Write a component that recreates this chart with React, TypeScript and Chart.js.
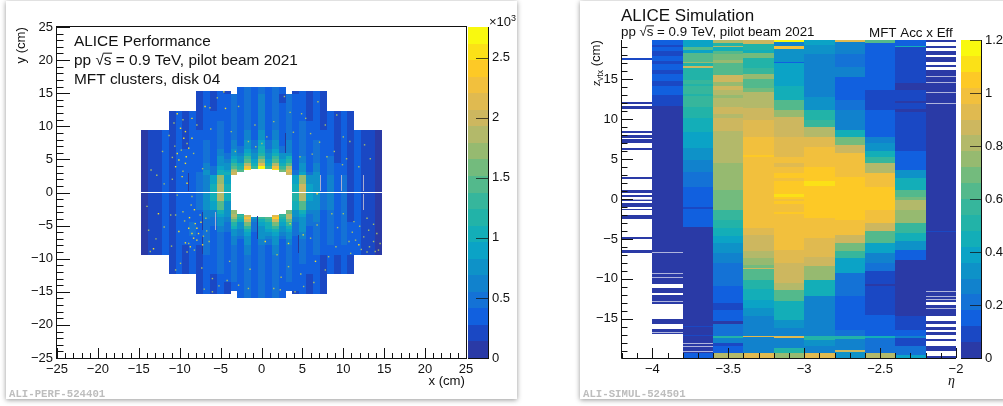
import React, { useEffect, useRef } from "react";
import { Chart, registerables } from "chart.js";

Chart.register(...registerables);

const SANS = '"Liberation Sans", Arial, sans-serif';

// 20 contour levels of the colour scale, bottom to top
const paletteColors = [
  "#2a3aa6", "#1a48c4", "#1160df", "#1472d6", "#1182cd", "#0e92c8", "#0ba3c6", "#13aeb8", "#22b3a8", "#36b69c",
  "#53b98c", "#73bb7d", "#96ba70", "#b3b96a", "#cdb75f", "#e0ba50", "#f2c03d", "#fdc926", "#fbe117", "#f9f90f",
];

// ---------- Left panel: MFT clusters, disk 04 (values in hundreds of clusters) ----------
const clusterMax = 27.56;
const columnEdges = [
  -14.7, -13.86, -13.02, -12.18, -11.34, -10.5, -9.66, -8.82, -7.98, -7.14, -6.3, -5.46, -4.62, -3.78, -2.94, -2.1, -1.26, -0.42,
  0.42, 1.26, 2.1, 2.94, 3.78, 4.62, 5.46, 6.3, 7.14, 7.98, 8.82, 9.66, 10.5, 11.34, 12.18, 13.02, 13.86, 14.7,
];
const upperEdges = [15.9, 15.35, 14.9, 13.5, 12.35, 10.8, 9.37, 8, 7, 6.5, 6, 5.5, 5, 4.5, 4, 3.6, 3.4, 3.1, 2.6, 1.3, 0.15];
const lowerEdges = [-0.03, -1.3, -2.7, -3.2, -3.4, -3.66, -4, -4.5, -5, -5.5, -6, -6.5, -7, -8, -9.37, -10.8, -12.35, -13.5, -14.9, -15.35, -15.9];

const upperRows = [
  [0,0,0,0,0,0,0,0,0,0,0,0,0,0, 3,5,3,5,3,5,3, 0,0,0,0,0,0,0,0,0,0,0,0,0,0],
  [0,0,0,0,0,0,0,0, 2,3,2,3,2,0,3,5,3,5,3,5,3,0,2,3,2,3,2, 0,0,0,0,0,0,0,0],
  [0,0,0,0,0,0,0,0, 2,3,2,3,3,5,3,5,3,6,3,5,2,5,3,3,2,3,2, 0,0,0,0,0,0,0,0],
  [0,0,0,0,0,0,0,0, 2,3,2,3,3,5,3,5,3,6,3,5,3,5,3,3,2,3,2, 0,0,0,0,0,0,0,0],
  [0,0,0,0, 2,3,2,3,2,3,3,3,3,5,3,5,3,6,3,5,3,5,3,3,2,3,2,3,2,3,2, 0,0,0,0],
  [0,0,0,0, 2,3,2,3,2,3,3,5,3,5,3,5,4,6,4,5,3,5,3,5,3,3,2,3,2,3,2, 0,0,0,0],
  [1,2,2,3,2,3,2,3,3,3,3,5,3,5,4,6,4,7,4,6,4,5,3,5,3,3,3,3,2,3,2,3,2,2,1],
  [1,2,2,3,2,3,2,3,3,5,3,5,4,6,4,7,5,9,5,7,4,6,3,5,3,5,3,3,2,3,2,3,2,2,1],
  [1,2,2,3,2,3,2,3,3,5,3,5,4,6,5,8,5,10,5,8, 5,6,3,5,3,5,3,3,2,3,2,3,2,2,1],
  [1,2,2,3,2,3,3,3,3,5,3,6,4,7,5,9,6,11,6,9, 5,6,3,5,3,5,3,3,2,3,2,3,2,2,1],
  [1,2,2,3,2,3,3,3,3,5,4,6,5,8,6,11,7,12,7,11, 7,8,3,5,3,5,3,3,2,3,2,3,2,2,1],
  [1,2,2,3,2,3,3,3,3,5,4,7,5,9,7,13,8,15,8,13, 8,10,3,6,3,5,3,5,2,3,2,3,2,2,1],
  [1,2,2,3,2,3,3,3,3,5,4,7,6,11,8,15,9,17,9,15, 9,12,4,6,4,5,3,5,2,3,2,3,2,2,1],
  [1,2,2,3,2,3,3,3,3,6,4,8,7,13,10,19,11,21,11,19, 11,15,4,7,4,6,3,5,3,3,2,3,2,2,1],
  [1,2,2,3,2,3,3,3,4,6,5,9,8,15,12,23,13,27,13,23, 13,18,4,7,4,6,3,5,3,3,2,3,2,2,1],
  [1,2,2,3,2,3,3,3,4,6,5,9,8,17,13,25,0,0,0,25, 14,20,4,7,4,6,3,5,3,3,2,3,2,2,1],
  [1,2,2,3,2,3,3,3,4,7,5,10,9,19,15,0,0,0,0,0, 16,22,5,8,4,6,3,5,3,3,2,3,2,2,1],
  [1,2,2,3,2,3,3,3,5,7,5,11,10,20,0,0,0,0,0,0, 0,20,5,9,5,7,4,5,3,3,2,3,2,2,1],
  [1,2,2,3,2,3,3,3,5,6,9,17,9,0,0,0,0,0,0,0, 0,0,9,17,8,8,4,6,3,5,2,3,2,2,1],
  [1,2,2,3,2,3,3,3,5,6,10,19,10,0,0,0,0,0,0,0, 0,0,11,20,9,8,4,6,3,5,2,3,2,2,1],
];

const lowerRows = [
  [1,2,2,3,2,3,3,3,5,7,10,19,10,0,0,0,0,0,0,0, 0,0,12,19,9,8,5,6,3,5,2,3,2,2,1],
  [1,2,2,3,2,3,3,3,5,7,9,15,8,0,0,0,0,0,0,0, 0,0,10,15,8,7,5,6,3,5,2,3,2,2,1],
  [1,2,2,3,2,3,3,3,4,6,6,10,7,17,0,0,0,0,0,0, 0,16,8,10,6,6,4,5,3,5,2,3,2,2,1],
  [1,2,2,3,2,3,3,3,4,6,6,9,7,18,12,0,0,0,0,0, 13,19,7,9,5,6,4,5,3,5,2,3,2,2,1],
  [1,2,2,3,2,3,3,3,4,6,6,9,7,18,13,20,0,0,0,21, 13,19,7,9,5,6,4,5,3,5,2,3,2,2,1],
  [1,2,2,3,2,3,3,3,4,6,5,8,6,17,12,23,7,13,15,24, 12,18,6,8,5,6,4,5,3,5,2,3,2,2,1],
  [1,2,2,3,2,3,3,3,4,5,5,8,6,15,10,20,6,11,13,20,10,16,6,8,5,6,4,5,3,5,2,3,2,2,1],
  [1,2,2,3,2,3,3,5,4,5,5,7,5,12,8,16,5,9,11,16,9,13,5,8,5,5,4,5,3,5,3,3,2,2,1],
  [1,2,2,3,2,3,3,5,4,5,4,6,5,10,7,13,5,8,10,13,8,11,5,7,4,5,4,5,3,5,3,3,2,2,1],
  [1,2,2,3,2,3,4,5,4,5,4,6,5,8,6,10,5,7,9,11,7,9,5,7,4,5,3,5,3,5,3,3,2,2,1],
  [1,2,2,3,2,3,3,5,3,5,3,5,4,7,6,9,4,7,8,9,6,8,5,6,4,5,3,5,3,5,3,3,2,2,1],
  [1,2,2,3,2,3,3,3,3,5,3,5,4,6,5,8,4,7,6,8,5,7,4,6,4,5,3,5,3,5,3,3,2,2,1],
  [1,2,2,3,2,3,3,3,3,5,3,5,3,6,4,7,4,6,5,7,4,6,4,5,3,5,3,5,3,5,3,3,2,2,1],
  [1,2,2,3,2,3,2,3,2,5,3,5,3,5,4,6,4,5,4,6,4,5,3,5,3,5,3,3,3,3,3,3,2,2,1],
  [0,0,0,0, 2,3,2,3,2,3,3,5,3,5,3,5,4,5,4,5,4,5,3,5,3,3,2,3,2,3,2, 0,0,0,0],
  [0,0,0,0, 2,3,2,3,2,3,3,5,3,5,3,5,3,5,3,5,3,5,3,3,3,3,2,3,2,3,2, 0,0,0,0],
  [0,0,0,0,0,0,0,0, 2,3,2,3,3,5,3,5,3,5,3,5,3,5,3,3,2,3,2, 0,0,0,0,0,0,0,0],
  [0,0,0,0,0,0,0,0, 2,3,2,3,2,3,3,5,3,5,3,5,3,3,3,3,2,3,2, 0,0,0,0,0,0,0,0],
  [0,0,0,0,0,0,0,0, 2,3,2,3,2,0,3,5,3,5,3,5,3,0,2,3,2,3,2, 0,0,0,0,0,0,0,0],
  [0,0,0,0,0,0,0,0,0,0,0,0,0,0, 3,5,3,5,3,5,3, 0,0,0,0,0,0,0,0,0,0,0,0,0,0],
];

// [x, yTop, yBottom] of the thin dead / noisy chip edges
const darkStrips = [[2.9, 9, 6], [-8.95, 3, 0.2], [-7.3, -2.9, -5.6], [-7.3, -6.5, -9.3], [-0.55, -3.6, -7], [4.5, -6.4, -9.2]];
const paleStrips = [[7.2, 2.7, 0.2], [9.7, 2.7, 0.2], [12.4, 2.7, 0.2], [12.4, -0.2, -2.7], [-5.65, -2.9, -5.6]];

// hot pixels
const hotBright = [
  [-10.3, 11.9], [-9.9, 9.7], [-9.3, 9.2], [-8.5, 11.2], [-9.5, 8.2], [-10.3, 5.9], [-10.1, 4.9], [-9.3, 4.4], [-10.5, 3.9], [-8.5, 8.2],
  [-6.9, 13], [-4.4, 12.7], [-4.6, 15.2], [-8.1, -4.7], [-7.9, -5.4], [-8.5, -6.2], [-8.9, -5.4], [-7.7, -6.2], [-8.3, -6.9], [-7.9, -7.2],
  [-10.1, -5.9], [-12.6, -3.2], [3.5, -4.7], [0.46, -7.4], [3.3, -7.7], [6.8, -0.2], [5.1, -6.4], [-8.7, -8.2], [6.6, -10.4], [-9.2, 5.4],
  [-8.9, 6.7], [-9.7, 2.4], [-8.8, -3.8], [-9.3, -7.6], [11.9, -7.9], [-13.2, -8.5], [-9.1, 1.4], [-8.2, -2.6], [-7.4, -4.5], [-7.2, -7.9],
];
const hotDim = [
  [-7.9, 10.2], [-6.3, 12.8], [-2.8, 13], [-1.6, 7.7], [-0.7, 6.9], [-0.8, 10.2], [-3.2, 6.2], [1.5, 10.7], [4.9, 11.9], [5.4, 11.2],
  [7.8, 10.2], [6, 8.9], [9.2, 11.7], [10, 8.4], [4.7, 5.4], [6.2, 5.8], [8, 5.4], [8.9, 6.2], [12.6, 7.2], [10.8, 7.7], [10.4, 5.1],
  [0.65, 8.4], [0.05, 7.4], [3.5, 12.1], [-14, -2.1], [-13.6, -8.9], [-11.1, -3.4], [-10.5, -3.4], [-13.8, -5.7], [-9.9, -10.7], [-10.5, -11.7],
  [-7.3, -11.4], [-6, -13], [-6, -15], [-2.8, -14], [-10.3, -0.4], [-8.5, -0.6], [-1.6, -14.5], [6, -6.9], [6.8, -4.9], [8.6, -3.2],
  [11.5, -7.2], [12.5, -6.7], [13.1, -5.7], [13.7, -7.4], [14.5, -7.7], [13.9, -8.9], [11.3, -4.4], [10, -3.2], [10.9, -9.2], [3.3, -11.2],
  [7.8, -11.7], [1.5, -14.5], [4.1, -15], [5.15, -14.2], [2.3, -14.7], [-11.3, 8.6], [-10.9, 2], [-11.9, 1.3], [-7.2, 3.6], [-12.8, 2.6],
  [12.2, -8.6], [13.2, -8.2], [14.1, -6.2], [12.9, -9], [10.7, -7.4], [-6.8, -3.9], [-8.2, -8.7], [-9.4, -4.3], [-11.9, -5.2], [-5.2, -14.1],
  [-9.6, 11], [-10.7, 10.5], [-9.1, 7.4], [-10.6, 7], [-9.8, 6.4], [-10.9, 5.3], [-8.3, 5.9], [-9.6, 3.2], [-6.2, 9.6], [-5.4, 14.3],
  [-3.7, 9.2], [2.8, 14.5], [3.9, 9.1], [6.9, 13.7], [7.1, 7.6], [9.9, 4.2], [11.9, 3.9], [13.3, 5.1], [-12.1, 6.2], [-13.5, 3.4],
  [-8.6, -1.9], [-9.6, -2.9], [-7.5, -3.4], [-6.7, -5.8], [-7.1, -6.6], [-8.9, -7.7], [-6.4, -7.4], [-9.1, -9], [-12.9, -7], [-11, -8.1],
  [-3.9, -10.4], [-1.4, -11.6], [1.9, -9.4], [2.4, -12.8], [4.8, -12.3], [6.4, -13.6], [9.3, -5.3], [9.1, -8.2], [12, -5.1], [12.9, -3.9],
  [13.7, -4.8], [14.3, -8.7], [11.1, -6], [8.2, -9.7], [-4.2, -13.3], [-7, -14.6],
];

// ---------- Right panel: MFT acceptance x efficiency; bands are [top edge in z, value] ----------
const etaEdges = [-4.2, -4, -3.8, -3.6, -3.4, -3.2, -3, -2.8, -2.6, -2.4, -2.2, -2];
const zBottom = -19.9;
const etaM42 = [[19.9,null],[17.7,.09],[17.4,null],[12.15,.03],[11.9,null],[11.7,.03],[11.25,null],[8.45,.03],[8.2,null],[7.95,.03],[7.65,null],[7.55,.03],[7.05,null],[6.4,.03],[6.1,null],[2.7,.03],[2.45,null],[1.1,.03],[0.7,null],[0.45,.03],[0.25,null],[0.05,.03],[-0.3,null],[-0.55,.03],[-0.95,null],[-1.2,.03],[-1.4,null],[-2.05,.03],[-2.5,null],[-4.8,.03],[-5,null],[-6.4,.03],[-6.8,null]];
const etaM40 = [[19.9,.15],[19.3,.09],[19,.15],[18.5,.09],[17.9,.15],[17.3,.09],[16.9,.15],[16.2,.09],[15.7,.15],[14.8,.09],[14.2,.15],[13,.09],[11.6,.03],[-10.7,null],[-11.15,.03],[-11.8,null],[-12,.03],[-13.2,null],[-15,.03],[-15.7,null],[-16.3,.03],[-16.9,null]];
const etaM38 = [[19.9,.39],[19,.63],[18.65,.39],[18.3,.63],[17.2,.75],[17,.51],[16.6,.87],[16.4,.51],[14.9,.57],[14.4,.51],[14.1,.57],[13.2,.51],[12.9,.57],[11.55,.51],[10.1,.45],[8.4,.39],[6.35,.33],[4.9,.27],[3.4,.21],[1.55,.15],[-1,.09],[-1.2,.15],[-3.55,.03],[-15.85,.09],[-16,.03],[-17,.09],[-17.2,.03],[-19.3,.15]];
const etaM36 = [[19.9,.81],[19.5,.51],[19.2,.81],[19,.45],[18.55,.63],[18.2,.69],[17.4,.75],[17,.63],[15.5,.87],[14.7,.75],[14.1,.87],[13.7,.81],[13,.75],[12.7,.81],[11.55,.87],[10.7,.81],[10.2,.87],[9.05,.87],[8.5,.81],[7,.81],[4.5,.75],[1.15,.69],[-1.35,.57],[-2.6,.51],[-3.65,.45],[-4.6,.39],[-5.5,.33],[-6.8,.27],[-8,.21],[-10.9,.15],[-13,.09],[-13.85,.15],[-15.3,.03],[-15.7,.21],[-17.2,.51],[-17.4,.24],[-18,.09],[-18.4,.15],[-19.25,.81]];
const etaM34 = [[19.9,.87],[19.4,.48],[18.65,.45],[18.3,.66],[17.6,.51],[16.35,.57],[15.7,.75],[15,.63],[13.85,.69],[13.45,.81],[11.35,.87],[9.9,.93],[7.8,.99],[5.5,1.05],[5.3,.99],[-3.65,.93],[-4.5,.87],[-6.55,.78],[-7.4,.75],[-8.2,.66],[-8.6,.87],[-8.75,.63],[-10.1,.51],[-11.3,.45],[-12.6,.39],[-13.6,.33],[-14.7,.27],[-17.1,.93],[-17.3,.27],[-18.85,.24],[-19.25,.93]];
const etaM32 = [[19.9,1.17],[19.6,.27],[19.2,.99],[18.75,.3],[17.2,.15],[17,.36],[15.7,.39],[14.1,.45],[12.4,.6],[11.15,.75],[10.3,.87],[7.8,.93],[5.3,.99],[4.5,.93],[4.05,.99],[3.2,1.05],[2.6,.99],[2.2,1.05],[0.6,1.11],[0.2,1.05],[0,.99],[-0.3,1.05],[-0.6,.99],[-1.6,1.05],[-1.9,.99],[-6.35,.93],[-8,.87],[-10.5,.78],[-11.35,.63],[-12.8,.42],[-15.1,.33],[-16.15,.27],[-17.1,.93],[-17.35,.27],[-18.65,.51],[-19.25,.75]];
const etaM30 = [[19.9,.39],[19.3,.33],[18.2,.27],[14.9,.24],[12.8,.33],[11.15,.48],[9.9,.57],[9.05,.78],[7.8,.93],[6.55,.99],[4.05,1.05],[2.2,1.11],[1.6,1.05],[-2.4,.99],[-4.9,.93],[-7.2,.87],[-8.4,.72],[-10.1,.45],[-12.2,.27],[-15.1,.24],[-17.2,.51],[-17.6,.33],[-18.4,.27],[-19.25,.93]];
const etaM28 = [[19.9,.93],[19.65,.27],[18.2,.21],[16.55,.27],[15.3,.15],[12.4,.21],[11.15,.27],[8.65,.45],[7.8,.69],[6.8,.87],[5.7,.96],[2.8,1.05],[-2.6,.99],[-4.5,.87],[-5.5,.69],[-6.5,.57],[-7.4,.36],[-9.25,.21],[-12.2,.12],[-14.7,.15],[-16.35,.21],[-17.2,.51],[-17.5,.27],[-18.85,.87],[-19.2,.33]];
const etaM26 = [[19.9,.63],[19.5,.15],[13.65,.09],[11.15,.15],[7.8,.27],[7,.33],[5.95,.45],[5.3,.54],[4.5,.81],[3.2,.99],[1.55,1.05],[-1.35,.99],[-3,.87],[-4.05,.63],[-5.5,.39],[-6.75,.27],[-8,.21],[-9.05,.09],[-10.7,.03],[-10.95,.09],[-14.5,.15],[-17.2,.45],[-17.4,.18],[-19.25,.81]];
const etaM24 = [[19.9,.12],[19.15,.45],[19.05,.09],[14.5,.03],[13.65,.09],[12.3,.03],[12,.09],[11.3,.03],[10.95,.09],[5.95,.15],[3.65,.33],[2.6,.45],[1.15,.63],[0.3,.69],[-0.1,.78],[-1.35,.75],[-3,.57],[-4.3,.45],[-5.3,.33],[-6.35,.15],[-7.6,.03],[-14.7,.09],[-16.35,.15],[-17.2,.27],[-17.4,.09],[-18.4,.21],[-19.5,.39]];
const etaM22 = [[19.9,.03],[19.6,null],[19.2,.03],[18.85,null],[18.57,.03],[18,null],[17.8,.03],[17.1,null],[16.73,.03],[16.5,null],[16.15,.03],[-4.05,.09],[-4.15,.03],[-12.93,null],[-13.27,.03],[-14.7,null],[-15.3,.03],[-15.7,null],[-16,.03],[-16.35,null],[-16.65,.03],[-17,null],[-17.5,.03],[-17.8,null],[-18.43,.03],[-19.05,null],[-19.7,.03]];
const etaColumns = [etaM42, etaM40, etaM38, etaM36, etaM34, etaM32, etaM30, etaM28, etaM26, etaM24, etaM22];

// thin, partly filled bins: [column index, z]
const faintRows = [
  [0, 0.75], [0, -0.05], [1, -6.65], [1, -9.2], [1, -9.8], [1, -12.8], [1, -16.6], [2, -18], [2, -18.4], [2, -19.05],
  [10, 15.4], [10, 14.7], [10, 13.45], [10, 12.07], [10, -11.56], [10, -12.1], [10, -12.5], [10, -13.64],
];

// ---------- Axes ----------
const leftMajor = [-25, -20, -15, -10, -5, 0, 5, 10, 15, 20, 25];
const rightEtaMajor = [-4, -3.5, -3, -2.5, -2];
const rightZMajor = [-15, -10, -5, 0, 5, 10, 15];
const leftBarTicks = [0, 0.5, 1, 1.5, 2, 2.5];
const rightBarTicks = [0, 0.2, 0.4, 0.6, 0.8, 1, 1.2];

const range = (a: number, b: number, s: number) => {
  const out: number[] = [];
  const n = Math.round((b - a) / s);
  for (let i = 0; i <= n; i++) out.push(+(a + i * s).toFixed(4));
  return out;
};

const levelColor = (v: number, max: number) => paletteColors[Math.max(0, Math.min(19, Math.floor((v / max) * 20)))];

type Run = { t: string; font: string; dy?: number; color?: string };
type Label = { x: number; y: number; rot?: number; align?: "left" | "right"; runs: Run[]; overline?: [string, string] };
type TickSet = { major: number[]; minor: number[]; majorLen: number; minorLen: number };
type Panel = {
  rect: [number, number, number, number];
  xMin: number; xMax: number; yMin: number; yMax: number;
  xTicks?: number[]; yTicks: number[];
  xMarks?: TickSet; yMarks: TickSet;
  yPos: "left" | "right";
  frame: "box" | "axes" | "bar";
  tickColor: string;
  datasets: any[];
  labels: Label[];
};

const fmt = (v: any) => String(v).replace("-", "\u2212");

function makeChart(canvas: HTMLCanvasElement, p: Panel) {
  const [x0, y0, x1, y1] = p.rect;
  const axisW = p.yPos === "left" ? 50 : Math.min(34, 1003 - x1);
  const axisH = p.xTicks ? 30 : 0;
  const plugin = {
    id: "rootStyle",
    beforeDatasetsDraw(chart: any) {
      const { ctx, scales } = chart;
      for (const ds of chart.data.datasets) {
        if (!ds.cellLayer) continue;
        for (const c of ds.data) {
          const xa = Math.round(scales.x.getPixelForValue(c.x));
          const xb = Math.round(scales.x.getPixelForValue(c.x2));
          const ya = Math.round(scales.y.getPixelForValue(c.y));
          const yb = Math.max(ya + 1, Math.round(scales.y.getPixelForValue(c.y2)));
          ctx.fillStyle = c.fill;
          ctx.fillRect(xa, ya, Math.max(1, xb - xa), yb - ya);
        }
      }
    },
    afterDatasetsDraw(chart: any) {
      const { ctx, scales, chartArea: a } = chart;
      ctx.save();
      ctx.lineWidth = 1;
      ctx.strokeStyle = p.tickColor;
      const draw = (xa: number, ya: number, xb: number, yb: number) => {
        ctx.beginPath();
        ctx.moveTo(xa, ya);
        ctx.lineTo(xb, yb);
        ctx.stroke();
      };
      if (p.xMarks) {
        for (const v of p.xMarks.minor) {
          const px = Math.round(scales.x.getPixelForValue(v)) + 0.5;
          draw(px, a.bottom, px, a.bottom - p.xMarks.minorLen);
        }
        for (const v of p.xMarks.major) {
          const px = Math.round(scales.x.getPixelForValue(v)) + 0.5;
          draw(px, a.bottom, px, a.bottom - p.xMarks.majorLen);
        }
      }
      const sign = p.yPos === "left" ? 1 : -1;
      const edge = p.yPos === "left" ? a.left : a.right;
      for (const v of p.yMarks.minor) {
        const py = Math.round(scales.y.getPixelForValue(v)) + 0.5;
        draw(edge, py, edge + sign * p.yMarks.minorLen, py);
      }
      for (const v of p.yMarks.major) {
        const py = Math.round(scales.y.getPixelForValue(v)) + 0.5;
        draw(edge, py, edge + sign * p.yMarks.majorLen, py);
      }
      ctx.strokeStyle = "#111";
      if (p.frame === "box") {
        ctx.strokeRect(a.left - 0.5, a.top - 0.5, a.right - a.left + 1, a.bottom - a.top + 1);
      } else if (p.frame === "axes") {
        draw(a.left - 0.5, a.top, a.left - 0.5, a.bottom + 0.5);
        draw(a.left - 0.5, a.bottom + 0.5, a.right, a.bottom + 0.5);
      } else {
        draw(a.right + 0.5, a.top, a.right + 0.5, a.bottom + 1);
        draw(a.left, a.bottom + 0.5, a.right, a.bottom + 0.5);
      }
      ctx.restore();
    },
    afterDraw(chart: any) {
      const { ctx } = chart;
      ctx.save();
      ctx.textBaseline = "alphabetic";
      for (const l of p.labels) {
        ctx.save();
        ctx.translate(l.x, l.y);
        if (l.rot) ctx.rotate(l.rot);
        let width = 0;
        for (const r of l.runs) {
          ctx.font = r.font;
          width += ctx.measureText(r.t).width;
        }
        let cx = l.align === "right" ? -width : 0;
        for (const r of l.runs) {
          ctx.font = r.font;
          ctx.fillStyle = r.color || "#111";
          ctx.fillText(r.t, cx, r.dy || 0);
          if (l.overline) {
            const before = ctx.measureText(l.overline[0]).width;
            const w = ctx.measureText(l.overline[1]).width;
            const size = parseFloat(r.font.match(/([\d.]+)px/)![1]);
            ctx.fillRect(cx + before, -size * 0.8, w + 0.5, 1);
          }
          cx += ctx.measureText(r.t).width;
        }
        ctx.restore();
      }
      ctx.restore();
    },
  };
  const tickFont = { family: SANS, size: 13 };
  return new Chart(canvas, {
    type: "scatter",
    data: { datasets: p.datasets },
    plugins: [plugin],
    options: {
      animation: false,
      responsive: false,
      devicePixelRatio: 1,
      events: [],
      layout: {
        padding: {
          left: p.yPos === "left" ? x0 - axisW : x0,
          top: y0,
          right: p.yPos === "right" ? 1003 - x1 - axisW : 1003 - x1,
          bottom: 406 - y1 - axisH,
        },
      },
      plugins: { legend: { display: false }, tooltip: { enabled: false } },
      scales: {
        x: {
          type: "linear",
          min: p.xMin,
          max: p.xMax,
          display: !!p.xTicks,
          grid: { display: false, drawTicks: false },
          border: { display: false },
          afterBuildTicks: (s: any) => { s.ticks = (p.xTicks || []).map((value) => ({ value })); },
          afterFit: (s: any) => { s.height = axisH; },
          ticks: { autoSkip: false, maxRotation: 0, padding: 4, color: "#111", font: tickFont, callback: fmt },
        },
        y: {
          type: "linear",
          position: p.yPos,
          min: p.yMin,
          max: p.yMax,
          grid: { display: false, drawTicks: false },
          border: { display: false },
          afterBuildTicks: (s: any) => { s.ticks = p.yTicks.map((value) => ({ value })); },
          afterFit: (s: any) => { s.width = axisW; },
          ticks: { autoSkip: false, maxRotation: 0, padding: 4, color: "#111", font: tickFont, callback: fmt },
        },
      },
    } as any,
  } as any);
}

function clusterCells() {
  const cells: any[] = [];
  const addRows = (rows: number[][], edges: number[]) => {
    rows.forEach((row, r) =>
      row.forEach((v, c) => {
        if (v > 0) cells.push({ x: columnEdges[c], x2: columnEdges[c + 1], y: edges[r], y2: edges[r + 1], v, fill: levelColor(v, clusterMax) });
      })
    );
  };
  addRows(upperRows, upperEdges);
  addRows(lowerRows, lowerEdges);
  darkStrips.forEach(([x, a, b]) => cells.push({ x, x2: x + 0.12, y: a, y2: b, v: 1, fill: "#26379c" }));
  paleStrips.forEach(([x, a, b]) => cells.push({ x, x2: x + 0.12, y: a, y2: b, v: 0, fill: "#a9aed0" }));
  return cells;
}

function etaCells() {
  const cells: any[] = [];
  etaColumns.forEach((col, c) => {
    col.forEach((band, i) => {
      const v = band[1];
      if (v === null) return;
      const next = i + 1 < col.length ? (col[i + 1][0] as number) : zBottom;
      cells.push({ x: etaEdges[c], x2: etaEdges[c + 1], y: band[0], y2: next, v, fill: levelColor(v as number, 1.2) });
    });
  });
  faintRows.forEach(([c, z]) => cells.push({ x: etaEdges[c], x2: etaEdges[c + 1], y: z, y2: z - 0.01, v: 0, fill: "rgba(255,255,255,0.62)" }));
  return cells;
}

function barCells(max: number) {
  return paletteColors.map((fill, i) => ({ x: 0, x2: 1, y: ((i + 1) * max) / 20, y2: (i * max) / 20, v: ((i + 0.5) * max) / 20, fill }));
}

const cellLayer = (label: string, data: any[]) => ({ label, data, cellLayer: true, pointRadius: 0, showLine: false });

const noMarks = (major: number[], len: number): TickSet => ({ major, minor: [], majorLen: len, minorLen: 0 });

export default function App() {
  const a = useRef<HTMLCanvasElement>(null);
  const b = useRef<HTMLCanvasElement>(null);
  const c = useRef<HTMLCanvasElement>(null);
  const d = useRef<HTMLCanvasElement>(null);
  useEffect(() => {
    const f = (s: number, extra = "") => `${extra} ${s}px ${SANS}`;
    const charts = [
      makeChart(a.current!, {
        rect: [57, 27, 466, 358],
        xMin: -25, xMax: 25, yMin: -25, yMax: 25,
        xTicks: leftMajor, yTicks: leftMajor,
        xMarks: { major: leftMajor, minor: range(-25, 25, 1), majorLen: 10, minorLen: 5 },
        yMarks: { major: leftMajor, minor: range(-25, 25, 1), majorLen: 13, minorLen: 6.5 },
        yPos: "left", frame: "box", tickColor: "#111",
        datasets: [
          cellLayer("MFT clusters, disk 04", clusterCells()),
          { label: "hot dim", data: hotDim.map(([x, y]) => ({ x, y })), pointStyle: "rect", pointRadius: 1, borderWidth: 0, backgroundColor: "#a4bd68" },
          { label: "hot bright", data: hotBright.map(([x, y]) => ({ x, y })), pointStyle: "rect", pointRadius: 1, borderWidth: 0, backgroundColor: "#f7df2a" },
        ],
        labels: [
          { x: 74, y: 46, runs: [{ t: "ALICE Performance", font: f(15.4) }] },
          { x: 74, y: 65, runs: [{ t: "pp \u221As = 0.9 TeV, pilot beam 2021", font: f(15.4) }], overline: ["pp \u221A", "s"] },
          { x: 74, y: 84, runs: [{ t: "MFT clusters, disk 04", font: f(15.4) }] },
          { x: 25, y: 27, rot: -Math.PI / 2, align: "right", runs: [{ t: "y (cm)", font: f(13.2) }] },
          { x: 465, y: 385, align: "right", runs: [{ t: "x (cm)", font: f(13.2) }] },
          { x: 9, y: 397, runs: [{ t: "ALI-PERF-524401", font: 'bold 10.7px "Liberation Mono", monospace', color: "#bdbdbd" }] },
        ],
      }),
      makeChart(b.current!, {
        rect: [468, 27, 488, 358],
        xMin: 0, xMax: 1, yMin: 0, yMax: 2.756,
        yTicks: leftBarTicks,
        yMarks: noMarks(leftBarTicks, 12),
        yPos: "right", frame: "bar", tickColor: "rgba(20,20,20,0.75)",
        datasets: [cellLayer("scale", barCells(2.756))],
        labels: [{ x: 489, y: 26, runs: [{ t: "\u00D710", font: f(13) }, { t: "3", font: f(9), dy: -5 }] }],
      }),
      makeChart(c.current!, {
        rect: [622, 40, 956, 358],
        xMin: -4.2, xMax: -2, yMin: -19.9, yMax: 19.9,
        xTicks: rightEtaMajor, yTicks: rightZMajor,
        xMarks: { major: rightEtaMajor, minor: range(-4.2, -2, 0.1), majorLen: 10, minorLen: 5 },
        yMarks: { major: rightZMajor, minor: range(-19, 19, 1), majorLen: 11, minorLen: 5.5 },
        yPos: "left", frame: "axes", tickColor: "#111",
        datasets: [cellLayer("MFT Acc x Eff", etaCells())],
        labels: [
          { x: 621, y: 21, runs: [{ t: "ALICE Simulation", font: f(17) }] },
          { x: 621, y: 36, runs: [{ t: "pp \u221As = 0.9 TeV, pilot beam 2021", font: f(13.3) }], overline: ["pp \u221A", "s"] },
          { x: 869, y: 37, runs: [{ t: "MFT Acc x Eff", font: f(13.4) }] },
          { x: 600, y: 40, rot: -Math.PI / 2, align: "right", runs: [
            { t: "z", font: `italic 13.2px "Liberation Serif", serif` },
            { t: "vtx", font: f(8.5), dy: 3 },
            { t: " (cm)", font: f(13.2) },
          ] },
          { x: 955, y: 385, align: "right", runs: [{ t: "\u03B7", font: `italic 14px "Liberation Serif", serif` }] },
          { x: 583, y: 397, runs: [{ t: "ALI-SIMUL-524501", font: 'bold 10.7px "Liberation Mono", monospace', color: "#bdbdbd" }] },
        ],
      }),
      makeChart(d.current!, {
        rect: [961, 40, 981, 358],
        xMin: 0, xMax: 1, yMin: 0, yMax: 1.2,
        yTicks: rightBarTicks,
        yMarks: noMarks(rightBarTicks, 11),
        yPos: "right", frame: "bar", tickColor: "rgba(20,20,20,0.75)",
        datasets: [cellLayer("scale", barCells(1.2))],
        labels: [],
      }),
    ];
    return () => charts.forEach((ch) => ch.destroy());
  }, []);
  const card = (left: number, width: number): React.CSSProperties => ({
    position: "absolute", left, top: 1, width, height: 398, background: "#fff",
    boxShadow: "0 1px 5px rgba(0,0,0,0.42)",
  });
  const layer: React.CSSProperties = { position: "absolute", left: 0, top: 0, width: 1003, height: 406, filter: "blur(0.4px)" };
  return (
    <div style={{ position: "fixed", left: 0, top: 0, width: 1003, height: 406, overflow: "hidden", background: "#fff" }}>
      <div style={card(6, 511)} />
      <div style={card(580, 440)} />
      <canvas ref={a} width={1003} height={406} style={layer} />
      <canvas ref={b} width={1003} height={406} style={layer} />
      <canvas ref={c} width={1003} height={406} style={layer} />
      <canvas ref={d} width={1003} height={406} style={layer} />
    </div>
  );
}
